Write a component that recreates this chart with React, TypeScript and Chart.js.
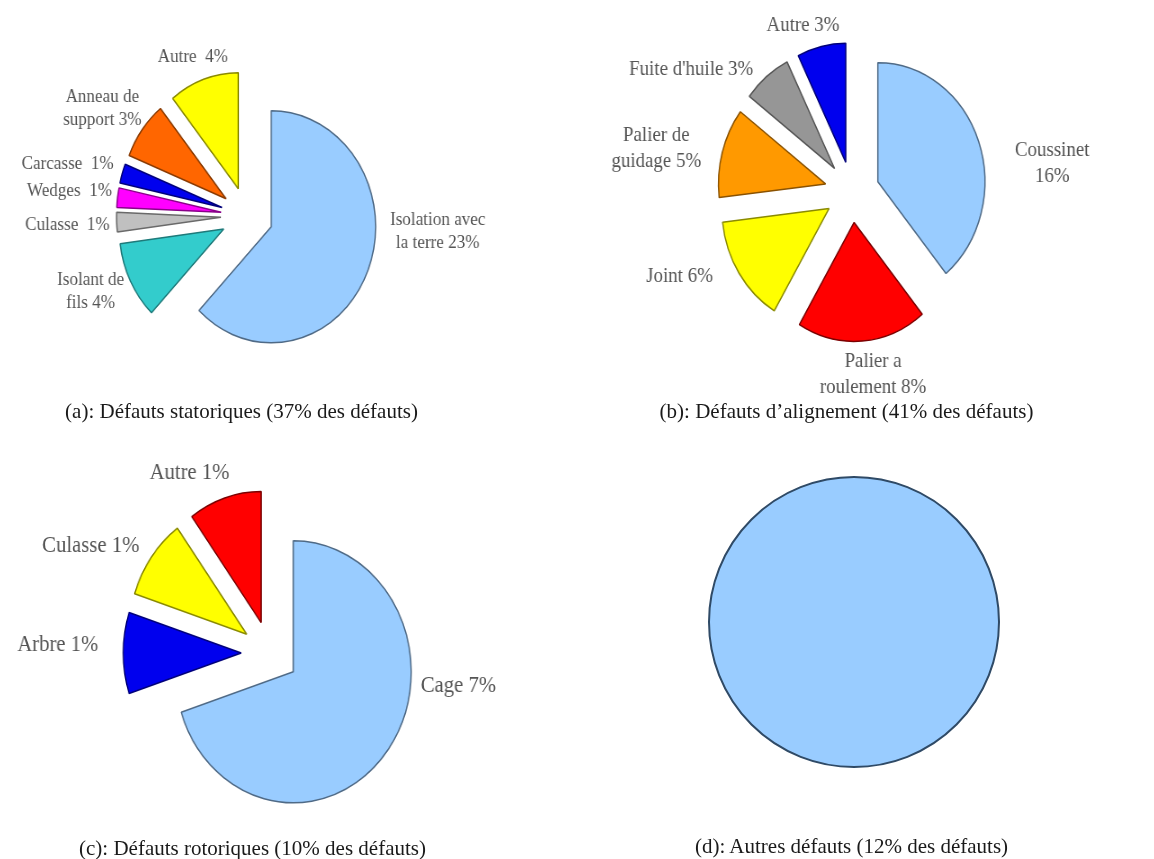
import React, { useEffect, useRef } from "react";
import { Chart, registerables } from "chart.js";

Chart.register(...registerables);

// ---------- DATA ----------
// (a) Défauts statoriques
const statorCategories: string[][] = [
  ["Isolation avec", "la terre"],
  ["Isolant de", "fils"],
  ["Culasse "],
  ["Wedges "],
  ["Carcasse "],
  ["Anneau de", "support"],
  ["Autre "],
];
const statorValues = [23, 4, 1, 1, 1, 3, 4];

// (b) Défauts d'alignement
const alignCategories: string[][] = [
  ["Coussinet", ""],
  ["Palier a", "roulement"],
  ["Joint"],
  ["Palier de", "guidage"],
  ["Fuite d'huile"],
  ["Autre"],
];
const alignValues = [16, 8, 6, 5, 3, 3];

// (c) Défauts rotoriques
const rotorCategories: string[][] = [["Cage"], ["Arbre"], ["Culasse"], ["Autre"]];
const rotorValues = [7, 1, 1, 1];

// (d) Autres défauts
const otherCategories: string[][] = [["Autres défauts"]];
const otherValues = [12];

const captions = [
  "(a): Défauts statoriques (37% des défauts)",
  "(b): Défauts d\u2019alignement (41% des défauts)",
  "(c): Défauts rotoriques (10% des défauts)",
  "(d): Autres défauts (12% des défauts)",
];

// ---------- STYLES ----------
const LIGHT_BLUE = "#99CCFF";
const statorColors = [LIGHT_BLUE, "#33CCCC", "#C0C0C0", "#FF00FF", "#0000EE", "#FF6600", "#FFFF00"];
const statorBorders = ["#4F6A86", "#1E7A7A", "#6A6A6A", "#8A008A", "#00007A", "#8A3A00", "#8A8A00"];
const alignColors = [LIGHT_BLUE, "#FF0000", "#FFFF00", "#FF9900", "#969696", "#0000EE"];
const alignBorders = ["#4F6A86", "#7A0000", "#8A8A00", "#8A5200", "#555555", "#00007A"];
const rotorColors = [LIGHT_BLUE, "#0000EE", "#FFFF00", "#FF0000"];
const rotorBorders = ["#4F6A86", "#00007A", "#8A8A00", "#7A0000"];
const otherColors = [LIGHT_BLUE];
const otherBorders = ["#2F4A66"];

// label nudges (screen px) relative to the radial placement rule
const statorNudges = [[17, -51], [-2, -5], [2, 2], [3, -4], [-2, -3], [-1, -1.5], [4, -2]];
const alignNudges = [[30, 34], [6, -2], [-24, -9], [-14, 6], [-30, 11], [-8, 1]];
const rotorNudges = [[32, -76], [-16, -8], [-14, 2], [-20, -3]];

type PieCfg = {
  categories: string[][];
  values: number[];
  colors: string[];
  borders: string[];
  centerX: number;
  centerY: number;
  width: number;
  height: number;
  scaleX: number;
  radius: number;
  explode: number;
  gap: number;
  fontSize: number;
  lineHeight: number;
  nudges: number[][];
  showLabels: boolean;
  borderWidth: number;
};

function labelLines(cat: string[], v: number): string[] {
  const lines = cat.slice();
  const last = lines[lines.length - 1];
  lines[lines.length - 1] = last ? `${last} ${v}%` : `${v}%`;
  return lines;
}

function PieChart({ cfg }: { cfg: PieCfg }) {
  const ref = useRef<HTMLCanvasElement | null>(null);
  useEffect(() => {
    if (!ref.current) return;
    // a lone 100% slice: dash the border so only the outer circle is stroked
    // (hides the radial seam from the centre to 12 o'clock)
    const single = cfg.values.length === 1;
    const plugin = {
      id: "explodeLabels",
      beforeDatasetDraw(chart: any, args: any) {
        const ctx = chart.ctx;
        args.meta.data.forEach((arc: any) => {
          const mid = (arc.startAngle + arc.endAngle) / 2;
          ctx.save();
          ctx.translate(Math.cos(mid) * cfg.explode, Math.sin(mid) * cfg.explode);
          arc.draw(ctx);
          ctx.restore();
        });
        return false;
      },
      afterDatasetsDraw(chart: any) {
        if (!cfg.showLabels) return;
        const ctx = chart.ctx;
        const meta = chart.getDatasetMeta(0);
        ctx.save();
        ctx.font = `${cfg.fontSize}px "Liberation Serif", "Times New Roman", serif`;
        ctx.fillStyle = "#555555";
        ctx.textAlign = "center";
        ctx.textBaseline = "middle";
        meta.data.forEach((arc: any, i: number) => {
          const mid = (arc.startAngle + arc.endAngle) / 2;
          const dx = Math.cos(mid);
          const dy = Math.sin(mid);
          const rr = cfg.explode + arc.outerRadius + cfg.gap;
          const lines = labelLines(cfg.categories[i], cfg.values[i]);
          const w = Math.max(...lines.map((l) => ctx.measureText(l).width));
          const h = lines.length * cfg.lineHeight;
          const n = cfg.nudges[i] || [0, 0];
          const cx = arc.x + rr * dx + (dx * w) / 2 + n[0] / cfg.scaleX;
          const cy = arc.y + rr * dy + (dy * h) / 2 + n[1];
          lines.forEach((l, k) => {
            ctx.fillText(l, cx, cy - h / 2 + cfg.lineHeight * (k + 0.5));
          });
        });
        ctx.restore();
      },
    };
    const chart = new Chart(ref.current, {
      type: "pie",
      data: {
        labels: cfg.categories.map((c) => c.join(" ").trim()),
        datasets: [
          {
            data: cfg.values,
            backgroundColor: cfg.colors,
            borderColor: cfg.borders,
            borderWidth: cfg.borderWidth,
            radius: cfg.radius,
            borderDash: single ? [2 * Math.PI * cfg.radius, 100000] : [],
          } as any,
        ],
      },
      options: {
        responsive: false,
        animation: false,
        events: [],
        layout: { padding: 0 },
        plugins: {
          legend: { display: false },
          tooltip: { enabled: false },
          title: { display: false },
        },
      } as any,
      plugins: [plugin as any],
    });
    return () => chart.destroy();
  }, [cfg]);
  const left = cfg.centerX - (cfg.scaleX * cfg.width) / 2;
  const top = cfg.centerY - cfg.height / 2;
  return (
    <canvas
      ref={ref}
      width={cfg.width}
      height={cfg.height}
      style={{
        position: "absolute",
        left,
        top,
        transform: `scaleX(${cfg.scaleX})`,
        transformOrigin: "0 0",
      }}
    />
  );
}

const cfgA: PieCfg = {
  categories: statorCategories, values: statorValues, colors: statorColors, borders: statorBorders,
  centerX: 247, centerY: 215.5, width: 600, height: 420, scaleX: 0.9,
  radius: 116, explode: 29, gap: 10, fontSize: 19, lineHeight: 23,
  nudges: statorNudges, showLabels: true, borderWidth: 1.5,
};
const cfgB: PieCfg = {
  categories: alignCategories, values: alignValues, colors: alignColors, borders: alignBorders,
  centerX: 852, centerY: 192, width: 620, height: 420, scaleX: 0.9,
  radius: 119, explode: 30.5, gap: 10, fontSize: 21, lineHeight: 26,
  nudges: alignNudges, showLabels: true, borderWidth: 1.5,
};
const cfgC: PieCfg = {
  categories: rotorCategories, values: rotorValues, colors: rotorColors, borders: rotorBorders,
  centerX: 269.6, centerY: 653, width: 600, height: 400, scaleX: 0.9,
  radius: 131, explode: 32, gap: 10, fontSize: 23, lineHeight: 26,
  nudges: rotorNudges, showLabels: true, borderWidth: 1.5,
};
const cfgD: PieCfg = {
  categories: otherCategories, values: otherValues, colors: otherColors, borders: otherBorders,
  centerX: 854, centerY: 622, width: 400, height: 400, scaleX: 1,
  radius: 145, explode: 0, gap: 10, fontSize: 20, lineHeight: 24,
  nudges: [], showLabels: false, borderWidth: 2,
};

const captionPos = [
  { x: 241.5, y: 411 },
  { x: 846.5, y: 411 },
  { x: 252.5, y: 848 },
  { x: 851.5, y: 846 },
];

export default function App() {
  return (
    <div
      style={{
        position: "absolute",
        left: 0,
        top: 0,
        width: 1154,
        height: 859,
        overflow: "hidden",
        background: "#ffffff",
      }}
    >
      <PieChart cfg={cfgA} />
      <PieChart cfg={cfgB} />
      <PieChart cfg={cfgC} />
      <PieChart cfg={cfgD} />
      {captions.map((c, i) => (
        <div
          key={i}
          style={{
            position: "absolute",
            left: captionPos[i].x - 260,
            top: captionPos[i].y - 13,
            width: 520,
            height: 26,
            lineHeight: "26px",
            textAlign: "center",
            whiteSpace: "nowrap",
            fontFamily: '"Liberation Serif", "Times New Roman", serif',
            fontSize: 21,
            color: "#1a1a1a",
          }}
        >
          {c}
        </div>
      ))}
    </div>
  );
}
